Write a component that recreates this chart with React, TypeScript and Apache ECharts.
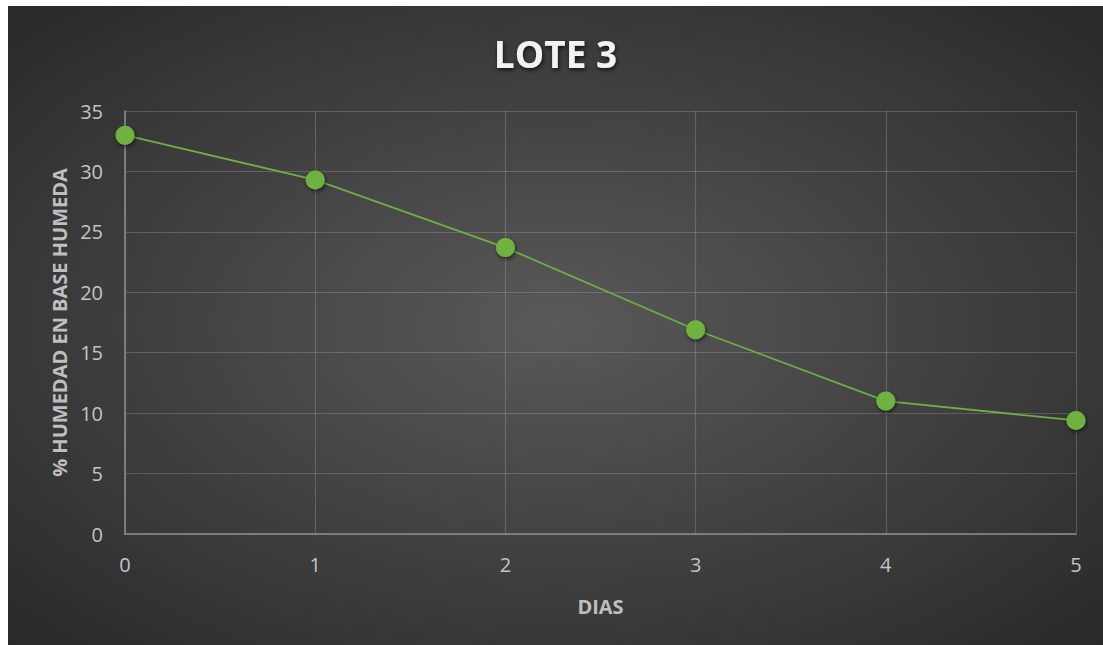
import React, { useEffect, useRef } from "react";
import * as echarts from "echarts";

const days = [0, 1, 2, 3, 4, 5];
const humidity = [33.0, 29.3, 23.7, 16.9, 11.0, 9.4];
const titleText = "LOTE 3";
const xName = "DIAS";
const yName = "% HUMEDAD EN BASE HUMEDA";

export default function App() {
  const ref = useRef<HTMLDivElement>(null);
  useEffect(() => {
    document.body.style.margin = "0";
    const chart = echarts.init(ref.current!, null, { renderer: "svg" });
    const font = "'Open Sans', Lato, sans-serif";
    chart.setOption({
      animation: false,
      backgroundColor: {
        type: "radial",
        x: 0.5,
        y: 0.5,
        r: 0.75,
        colorStops: [
          { offset: 0, color: "#595959" },
          { offset: 1, color: "#262626" },
        ],
      },
      title: {
        text: titleText,
        left: "center",
        top: 24,
        textStyle: {
          color: "#f2f2f2",
          fontSize: 37,
          fontWeight: "bold",
          fontFamily: font,
          textShadowColor: "rgba(0,0,0,0.7)",
          textShadowBlur: 4,
          textShadowOffsetX: 1,
          textShadowOffsetY: 2,
        },
      },
      grid: { left: 117, right: 27, top: 105, bottom: 111 },
      xAxis: {
        type: "value",
        min: 0,
        max: 5,
        interval: 1,
        name: xName,
        nameLocation: "middle",
        nameGap: 62,
        nameTextStyle: { color: "#bfbfbf", fontSize: 20, fontWeight: "bold", fontFamily: font },
        axisLine: { show: true, lineStyle: { color: "#8c8c8c", width: 1.5 } },
        axisTick: { show: false },
        axisLabel: { color: "#c4c4c4", fontSize: 20, fontFamily: font, margin: 20 },
        splitLine: { show: true, lineStyle: { color: "rgba(255,255,255,0.17)", width: 1.2 } },
      },
      yAxis: {
        type: "value",
        min: 0,
        max: 35,
        interval: 5,
        name: yName,
        nameLocation: "middle",
        nameGap: 56,
        nameRotate: 90,
        nameTextStyle: { color: "#bfbfbf", fontSize: 20, fontWeight: "bold", fontFamily: font },
        axisLine: { show: true, lineStyle: { color: "#8c8c8c", width: 1.5 } },
        axisTick: { show: false },
        axisLabel: { color: "#c4c4c4", fontSize: 20, fontFamily: font, margin: 22 },
        splitLine: { show: true, lineStyle: { color: "rgba(255,255,255,0.17)", width: 1.2 } },
      },
      series: [
        {
          type: "line",
          data: days.map((d, i) => [d, humidity[i]]),
          symbol: "circle",
          symbolSize: 19,
          lineStyle: { color: "#70ad47", width: 1.8 },
          itemStyle: {
            color: "#6fb23f",
            shadowColor: "rgba(0,0,0,0.6)",
            shadowBlur: 4,
            shadowOffsetX: 1,
            shadowOffsetY: 2,
          },
        },
      ],
    });
    return () => chart.dispose();
  }, []);
  return (
    <div
      ref={ref}
      style={{ position: "absolute", left: 8, top: 6, width: 1095, height: 639 }}
    />
  );
}
